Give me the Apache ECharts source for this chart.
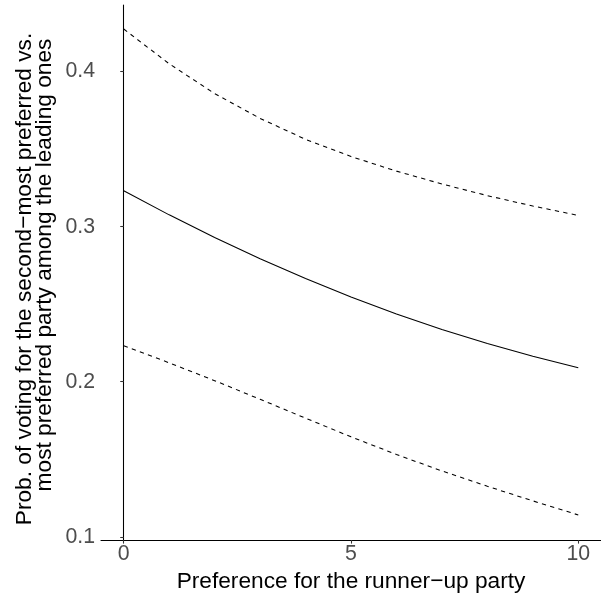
<!DOCTYPE html>
<html>
<head>
<meta charset="utf-8">
<script src="https://cdn.jsdelivr.net/npm/echarts@6/dist/echarts.min.js"></script>
<style>
html,body{margin:0;padding:0;background:#fff;}
#chart{width:601px;height:598px;}
</style>
</head>
<body>
<div id="chart"></div>
<script>
var xValues = [0, 1, 2, 3, 4, 5, 6, 7, 8, 9, 10];
var estimate = [0.3232, 0.3076, 0.2930, 0.2793, 0.2665, 0.2546, 0.2437, 0.2337, 0.2246, 0.2164, 0.2090];
var upperCI = [0.4274, 0.4050, 0.3858, 0.3698, 0.3563, 0.3452, 0.3358, 0.3275, 0.3200, 0.3133, 0.3072];
var lowerCI = [0.2232, 0.2122, 0.2007, 0.1887, 0.1765, 0.1645, 0.1531, 0.1425, 0.1326, 0.1232, 0.1141];
var xTicks = [0, 5, 10];
var yTicks = [0.1, 0.2, 0.3, 0.4];
var xTitle = "Preference for the runner\u2212up party";
var yTitleLine1 = "Prob. of voting for the second\u2212most preferred vs.";
var yTitleLine2 = "most preferred party among the leading ones";

function pairs(ys) { return xValues.map(function (x, i) { return [x, ys[i]]; }); }

var chart = echarts.init(document.getElementById('chart'), null, { renderer: 'canvas' });
var font = "'Liberation Sans', Arial, sans-serif";
var lineW = 1.07;
function vText(txt, x, y) {
  return {
    type: 'text', x: x, y: y, rotation: Math.PI / 2, silent: true,
    style: { text: txt, fill: '#000', fontSize: 22.7, fontFamily: font,
      align: 'center', verticalAlign: 'middle', textAlign: 'center', textVerticalAlign: 'middle' }
  };
}
chart.setOption({
  animation: false,
  backgroundColor: '#ffffff',
  grid: { left: 101, right: 0, top: 5, bottom: 56, containLabel: false },
  graphic: [ vText(yTitleLine1, 24.5, 279), vText(yTitleLine2, 44.5, 265) ],
  xAxis: {
    type: 'value', min: -0.5, max: 10.5,
    name: xTitle, nameLocation: 'middle', nameGap: 24,
    nameTextStyle: { color: '#000', fontSize: 22.7, fontFamily: font },
    axisLine: { show: true, lineStyle: { color: '#000', width: lineW } },
    axisTick: { show: true, length: 3.5, customValues: xTicks, lineStyle: { color: '#333', width: lineW } },
    axisLabel: { customValues: xTicks, color: '#4d4d4d', fontSize: 21.3, fontFamily: font, margin: 4 },
    splitLine: { show: false }
  },
  yAxis: {
    type: 'value', min: 0.0979, max: 0.4429,
    axisLine: { show: true, lineStyle: { color: '#000', width: lineW } },
    axisTick: { show: true, length: 3.5, customValues: yTicks, lineStyle: { color: '#333', width: lineW } },
    axisLabel: { customValues: yTicks, color: '#4d4d4d', fontSize: 21.3, fontFamily: font, margin: 6,
      formatter: function (v) { return v.toFixed(1); } },
    splitLine: { show: false }
  },
  series: [
    { type: 'line', data: pairs(upperCI), showSymbol: false,
      lineStyle: { color: '#000', width: lineW, type: [4.3, 4.3] } },
    { type: 'line', data: pairs(estimate), showSymbol: false,
      lineStyle: { color: '#000', width: lineW, type: 'solid' } },
    { type: 'line', data: pairs(lowerCI), showSymbol: false,
      lineStyle: { color: '#000', width: lineW, type: [4.3, 4.3] } }
  ]
});
</script>
</body>
</html>
